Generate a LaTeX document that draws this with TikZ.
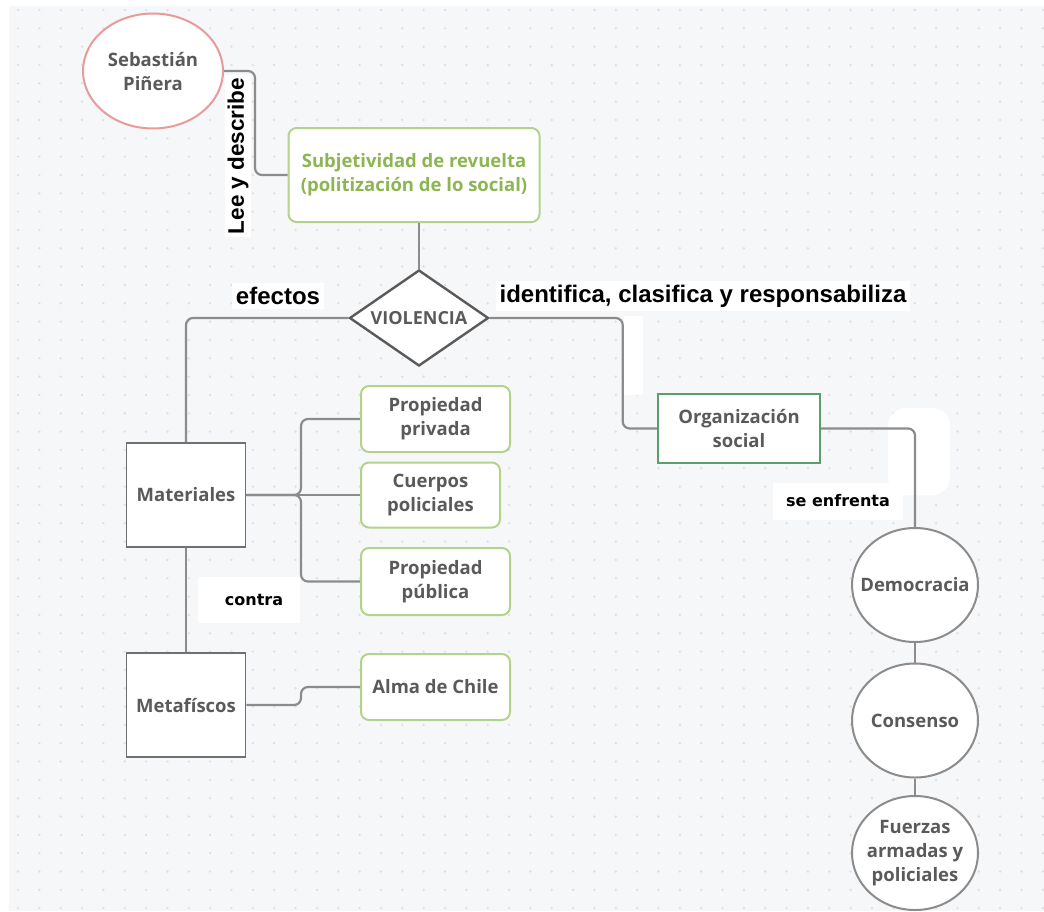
\documentclass[tikz,border=0pt]{standalone}
\usepackage{fontspec}
\setmainfont{Open Sans}
\newfontfamily\boxfont{Open Sans}
\newfontfamily\labfont{Liberation Sans}
\newfontfamily\smallfont{DejaVu Sans}
\usetikzlibrary{shapes.geometric,calc}

\definecolor{bggray}{HTML}{F6F7F9}
\definecolor{dotgray}{HTML}{DEDFE4}
\definecolor{linegray}{HTML}{8C8C8C}
\definecolor{txtgray}{HTML}{5A5A5A}
\definecolor{pinkline}{HTML}{E89B9B}
\definecolor{greenline}{HTML}{B3D38A}
\definecolor{greentxt}{HTML}{8DB552}
\definecolor{darkgreen}{HTML}{5E9E6A}
\definecolor{boxline}{HTML}{707070}

\tikzset{
  boxtext/.style={text=txtgray, font=\boxfont\bfseries\fontsize{18.5}{24}\selectfont},
  conn/.style={draw=linegray, line width=2.2pt, rounded corners=7pt},
  gbox/.style={boxtext, draw=greenline, line width=2pt, rounded corners=8pt,
    fill=white, align=center, inner sep=0pt},
  sqbox/.style={boxtext, draw=boxline, line width=1.6pt, fill=white, inner sep=0pt,
    minimum width=119pt, minimum height=104pt},
  % fixed-size round shapes carry their text as a centred label
  circ/.style={ellipse, draw=linegray, line width=2pt, fill=white,
    inner sep=0pt, minimum width=126pt, minimum height=114pt,
    label={[boxtext, align=center]center:#1}},
  biglab/.style={fill=white, text=black, inner sep=4pt,
    font=\labfont\bfseries\fontsize{24}{27}\selectfont},
  smalllab/.style={fill=white, text=black, inner sep=0pt,
    font=\smallfont\bfseries\fontsize{16}{19}\selectfont}
}

\begin{document}
\begin{tikzpicture}[x=1pt,y=-1pt]
\useasboundingbox (0,0) rectangle (1044,911);

% dotted canvas
\fill[bggray] (9,6) rectangle (1044,911);
\foreach \i in {0,...,48}
  \foreach \j in {0,...,49}
    \fill[dotgray] ({18+21.35*\i},{10+18.33*\j}) circle (1.3);
\fill[white] (624,316) rectangle (643,395);
\fill[white, rounded corners=18pt] (888,408) rectangle (950,495);

% nodes
\node[ellipse, draw=pinkline, line width=2pt, fill=white, inner sep=0pt,
  minimum width=140pt, minimum height=115pt,
  label={[boxtext, align=center]center:Sebastián\\Piñera}] (seb) at (153,71) {};

\node[gbox, minimum width=251pt, minimum height=94pt, text=greentxt] (sub) at (414,175)
  {Subjetividad de revuelta\\(politización de lo social)};

\node[diamond, draw=txtgray, line width=2.4pt, fill=white, inner sep=0pt,
  minimum width=139pt, minimum height=96pt,
  label={[text=txtgray, font=\boxfont\bfseries\fontsize{18}{22}\selectfont]center:VIOLENCIA}]
  (dia) at (419,318) {};

\node[sqbox] (mat) at (186,495) {Materiales};
\node[sqbox] (met) at (186,705) {Metafíscos};

\node[gbox, minimum width=149pt, minimum height=66pt] (pp) at (435.5,419) {Propiedad\\privada};
\node[gbox, minimum width=139pt, minimum height=65pt] (cp) at (430.5,495) {Cuerpos\\policiales};
\node[gbox, minimum width=149pt, minimum height=67pt] (pub) at (435.5,581.5) {Propiedad\\pública};
\node[gbox, minimum width=149pt, minimum height=66pt] (alma) at (435.5,687) {Alma de Chile};

\node[boxtext, draw=darkgreen, line width=2pt, fill=white, inner sep=0pt,
  minimum width=162pt, minimum height=69pt, align=center] (org) at (739,428.5)
  {Organización\\social};

\node[circ={Democracia}] (dem) at (915,585) {};
\node[circ={Consenso}] (con) at (915,720.5) {};
\node[circ={Fuerzas\\armadas y\\policiales}] (fue) at (915,853) {};

% connectors
\draw[conn] (seb.east) -- ++(31,0) |- (sub.west);
\draw[conn] (sub.south -| dia.north) -- (dia.north);
\draw[conn] (dia.west) -| (mat.north);
\draw[conn] (dia.east) -- ++(133,0) |- (org.west);
\draw[conn] (mat.east) -| ($(pp.west)+(-59,0)$) -- (pp.west);
\draw[conn] (mat.east) -- (mat.east -| cp.west);
\draw[conn] (mat.east) -| ($(pub.west)+(-59,0)$) -- (pub.west);
\draw[conn] (mat.south) -- (met.north);
\draw[conn] (met.east) -| ($(alma.west)+(-59,0)$) -- (alma.west);
\draw[conn] (org.east) -| (dem.north);
\draw[conn] (dem.south) -- (con.north);
\draw[conn] (con.south) -- (fue.north);

% connector labels
\node[biglab, rotate=90, inner sep=3pt, font=\labfont\bfseries\fontsize{22.5}{26}\selectfont]
  (lee) at (238,156) {Lee y describe};
\node[biglab] (efe) at (278,296) {efectos};
\node[biglab] (ide) at (703,296) {identifica, clasifica y responsabiliza};
\node[smalllab, minimum width=102pt, minimum height=46pt] (contra) at (249,600) {\hspace*{10pt}contra};
\node[smalllab, minimum width=130pt, minimum height=37pt] (enf) at (838,501) {se enfrenta};
\end{tikzpicture}
\end{document}
